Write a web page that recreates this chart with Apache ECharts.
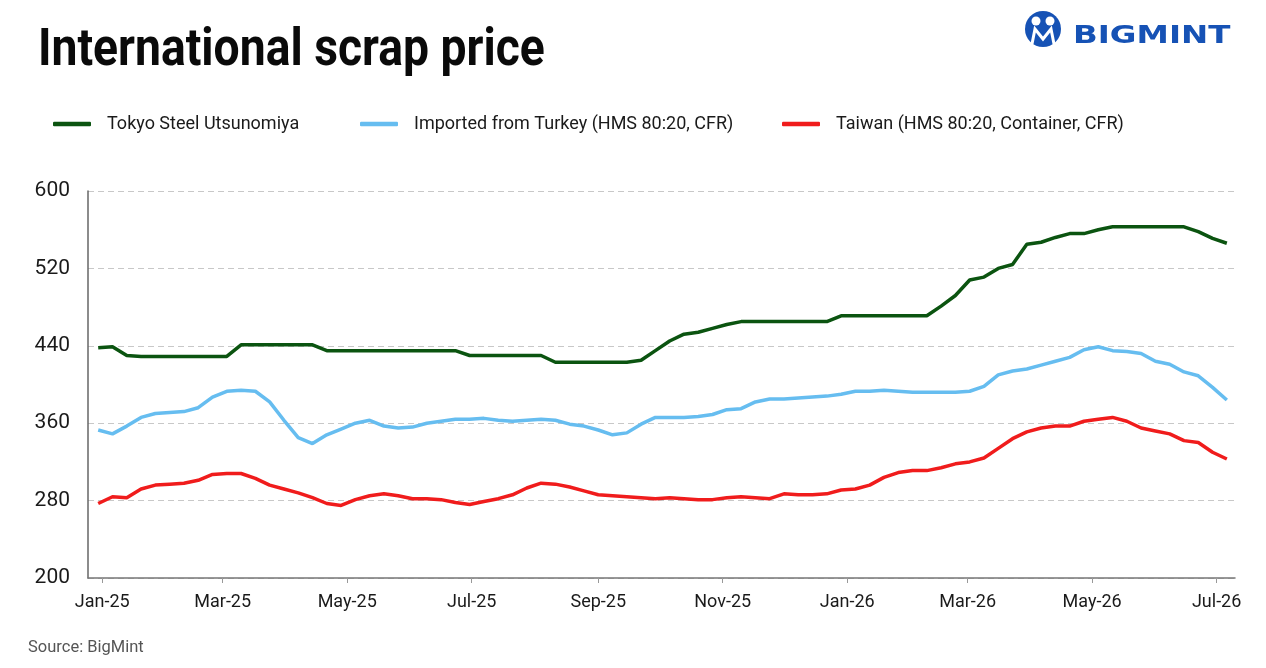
<!DOCTYPE html>
<html>
<head>
<meta charset="utf-8">
<title>International scrap price</title>
<script src="https://cdn.jsdelivr.net/npm/echarts@6/dist/echarts.min.js"></script>
<style>
  html, body { margin: 0; padding: 0; background: #fff; }
  #chart { width: 1266px; height: 668px; }
</style>
</head>
<body>
<div id="chart"></div>
<script>
// weekly price dates
const weeks = [
  '2024-12-30', '2025-01-06', '2025-01-13', '2025-01-20', '2025-01-27', '2025-02-03', '2025-02-10', '2025-02-17', '2025-02-24', '2025-03-03',
  '2025-03-10', '2025-03-17', '2025-03-24', '2025-03-31', '2025-04-07', '2025-04-14', '2025-04-21', '2025-04-28', '2025-05-05', '2025-05-12',
  '2025-05-19', '2025-05-26', '2025-06-02', '2025-06-09', '2025-06-16', '2025-06-23', '2025-06-30', '2025-07-07', '2025-07-14', '2025-07-21',
  '2025-07-28', '2025-08-04', '2025-08-11', '2025-08-18', '2025-08-25', '2025-09-01', '2025-09-08', '2025-09-15', '2025-09-22', '2025-09-29',
  '2025-10-06', '2025-10-13', '2025-10-20', '2025-10-27', '2025-11-03', '2025-11-10', '2025-11-17', '2025-11-24', '2025-12-01', '2025-12-08',
  '2025-12-15', '2025-12-22', '2025-12-29', '2026-01-05', '2026-01-12', '2026-01-19', '2026-01-26', '2026-02-02', '2026-02-09', '2026-02-16',
  '2026-02-23', '2026-03-02', '2026-03-09', '2026-03-16', '2026-03-23', '2026-03-30', '2026-04-06', '2026-04-13', '2026-04-20', '2026-04-27',
  '2026-05-04', '2026-05-11', '2026-05-18', '2026-05-25', '2026-06-01', '2026-06-08', '2026-06-15', '2026-06-22', '2026-06-29', '2026-07-06'
]

const tokyo = [
  438, 439, 430, 429, 429, 429, 429, 429, 429, 429,
  441, 441, 441, 441, 441, 441, 435, 435, 435, 435,
  435, 435, 435, 435, 435, 435, 430, 430, 430, 430,
  430, 430, 423, 423, 423, 423, 423, 423, 425, 435,
  445, 452, 454, 458, 462, 465, 465, 465, 465, 465,
  465, 465, 471, 471, 471, 471, 471, 471, 471, 481,
  492, 508, 511, 520, 524, 545, 547, 552, 556, 556,
  560, 563, 563, 563, 563, 563, 563, 558, 551, 546
]

const turkey = [
  353, 349, 357, 366, 370, 371, 372, 376, 387, 393,
  394, 393, 382, 363, 345, 339, 348, 354, 360, 363,
  357, 355, 356, 360, 362, 364, 364, 365, 363, 362,
  363, 364, 363, 359, 357, 353, 348, 350, 359, 366,
  366, 366, 367, 369, 374, 375, 382, 385, 385, 386,
  387, 388, 390, 393, 393, 394, 393, 392, 392, 392,
  392, 393, 398, 410, 414, 416, 420, 424, 428, 436,
  439, 435, 434, 432, 424, 421, 413, 409, 397, 384
]

const taiwan = [
  277, 284, 283, 292, 296, 297, 298, 301, 307, 308,
  308, 303, 296, 292, 288, 283, 277, 275, 281, 285,
  287, 285, 282, 282, 281, 278, 276, 279, 282, 286,
  293, 298, 297, 294, 290, 286, 285, 284, 283, 282,
  283, 282, 281, 281, 283, 284, 283, 282, 287, 286,
  286, 287, 291, 292, 296, 304, 309, 311, 311, 314,
  318, 320, 324, 334, 344, 351, 355, 357, 357, 362,
  364, 366, 362, 355, 352, 349, 342, 340, 330, 323
]

const seriesNames = [
  'Tokyo Steel Utsunomiya',
  'Imported from Turkey (HMS 80:20, CFR)',
  'Taiwan (HMS 80:20, Container, CFR)'
]
const seriesColors = ['#0b5410', '#66bdf0', '#f01c1c']

const tickDates = ['2025-01-01', '2025-03-01', '2025-05-01', '2025-07-01', '2025-09-01',
  '2025-11-01', '2026-01-01', '2026-03-01', '2026-05-01', '2026-07-01']
const tickLabels = ['Jan-25', 'Mar-25', 'May-25', 'Jul-25', 'Sep-25',
  'Nov-25', 'Jan-26', 'Mar-26', 'May-26', 'Jul-26']

const toTime = d => +echarts.time.parse(d)
const tickTimes = tickDates.map(toTime)
const FONT = 'Roboto, "Liberation Sans", sans-serif'

const chart = echarts.init(document.getElementById('chart'))

const legendLeft = [48, 355, 777]

const option = {
  animation: false,
  backgroundColor: '#fff',
  textStyle: { fontFamily: FONT },
  graphic: [
    {
      type: 'text', x: 38, y: 27, scaleX: 0.907,
      style: { text: 'International scrap price', fontSize: 51, fontWeight: 'bold', fontFamily: FONT, fill: '#0a0a0a', verticalAlign: 'top' }
    },
    // logo
    { type: 'circle', shape: { cx: 1043, cy: 29, r: 18 }, style: { fill: '#1652b5' } },
    { type: 'circle', shape: { cx: 1036, cy: 21, r: 4.5 }, style: { fill: '#fff' } },
    { type: 'circle', shape: { cx: 1050, cy: 21, r: 4.5 }, style: { fill: '#fff' } },
    {
      type: 'polyline',
      shape: { points: [[1032, 44], [1035, 29], [1043, 39], [1051, 29], [1054, 44]] },
      style: { stroke: '#fff', lineWidth: 3, fill: null }
    },
    {
      type: 'text', x: 1073, y: 24, scaleX: 1.3,
      style: { text: 'BIGMINT', fontSize: 25, fontWeight: 'bold', fontFamily: '"DejaVu Sans"', fill: '#1652b5', verticalAlign: 'top' }
    },
    {
      type: 'text', x: 28, y: 639,
      style: { text: 'Source: BigMint', fontSize: 16.5, fontFamily: FONT, fill: '#555', verticalAlign: 'top' }
    }
  ],
  legend: seriesNames.map((name, i) => ({
    data: [name],
    left: legendLeft[i],
    top: 110,
    icon: 'roundRect',
    itemWidth: 38,
    itemHeight: 4.5,
    selectedMode: false,
    textStyle: { fontSize: 18, color: '#1a1a1a', padding: [0, 0, 0, 11] }
  })),
  grid: { left: 88, right: 31, top: 191, bottom: 90 },
  xAxis: {
    type: 'value',
    min: toTime('2024-12-25'),
    max: toTime('2026-07-10'),
    axisLine: { lineStyle: { color: '#777', width: 1.5 } },
    axisTick: { show: true, customValues: tickTimes, length: 5, lineStyle: { color: '#999' } },
    axisLabel: {
      customValues: tickTimes,
      formatter: (val) => {
        const k = tickTimes.indexOf(+val)
        return k >= 0 ? tickLabels[k] : ''
      },
      color: '#1a1a1a',
      fontSize: 18,
      margin: 15
    },
    splitLine: { show: false }
  },
  yAxis: {
    type: 'value',
    min: 200,
    max: 600,
    interval: 80,
    axisLine: { show: true, lineStyle: { color: '#666', width: 1.5 } },
    axisTick: { show: false },
    axisLabel: { color: '#1a1a1a', fontSize: 21, margin: 18 },
    splitLine: { lineStyle: { type: [6, 4], color: '#c8c8c8' } }
  },
  series: [tokyo, turkey, taiwan].map((vals, i) => ({
    name: seriesNames[i],
    type: 'line',
    data: weeks.map((d, k) => [toTime(d), vals[k]]),
    showSymbol: false,
    lineStyle: { width: 3.5, color: seriesColors[i] },
    itemStyle: { color: seriesColors[i] }
  }))
}

chart.setOption(option)
</script>
</body>
</html>
